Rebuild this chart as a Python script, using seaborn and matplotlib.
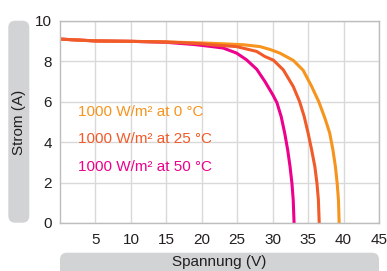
import matplotlib
matplotlib.use("Agg")
import matplotlib.pyplot as plt
from matplotlib.patches import FancyBboxPatch
from matplotlib.transforms import IdentityTransform
import seaborn as sns
import pandas as pd

# Data
v_0c = [0, 5, 10, 15, 20, 23, 25.9, 28.2, 29.6, 31.0, 32.9, 34.3, 35.5, 36.5, 37.4, 38.05, 38.5, 38.85, 39.1, 39.28, 39.38]
i_0c = [9.09, 9.0, 8.98, 8.95, 8.9, 8.86, 8.81, 8.72, 8.58, 8.4, 8.04, 7.55, 6.75, 6.0, 5.15, 4.44, 3.61, 2.79, 1.96, 1.14, 0.0]
v_25c = [0, 5, 10, 15, 20, 21.2, 24.9, 27.75, 28.9, 30.1, 31.5, 32.9, 33.8, 34.45, 35.0, 35.5, 35.95, 36.25, 36.45, 36.57]
i_25c = [9.09, 9.0, 8.98, 8.95, 8.86, 8.81, 8.72, 8.48, 8.23, 8.05, 7.57, 6.75, 6.0, 5.26, 4.44, 3.61, 2.79, 1.96, 1.14, 0.0]
v_50c = [0, 5, 10, 15, 19, 21.2, 23.0, 24.9, 26.3, 27.75, 28.9, 30.0, 30.6, 31.2, 31.7, 32.12, 32.45, 32.72, 32.9, 33.02]
i_50c = [9.09, 9.0, 8.98, 8.93, 8.82, 8.73, 8.65, 8.4, 8.07, 7.6, 7.0, 6.35, 5.95, 5.26, 4.44, 3.61, 2.79, 1.96, 1.14, 0.0]

series_labels = ["1000 W/m² at 0 °C", "1000 W/m² at 25 °C", "1000 W/m² at 50 °C"]
series_colors = ["#F7941D", "#F15A29", "#EC008C"]
x_ticks = [5, 10, 15, 20, 25, 30, 35, 40, 45]
y_ticks = [0, 2, 4, 6, 8, 10]
x_label = "Spannung (V)"
y_label = "Strom (A)"

frames = []
for lab, vv, ii in zip(series_labels, [v_0c, v_25c, v_50c], [i_0c, i_25c, i_50c]):
    frames.append(pd.DataFrame({"V": vv, "I": ii, "s": lab}))
df = pd.concat(frames, ignore_index=True)

sns.set_theme(style="whitegrid")
plt.rcParams["font.family"] = ["Liberation Sans", "DejaVu Sans"]

fig = plt.figure(figsize=(3.87, 2.71), dpi=100)
ax = fig.add_axes([60 / 387, 1 - 223 / 271, (379 - 60) / 387, (223 - 20.7) / 271])

palette = dict(zip(series_labels, series_colors))
draw_order = [series_labels[2], series_labels[0], series_labels[1]]
for lab in draw_order:
    sub = df[df["s"] == lab]
    sns.lineplot(data=sub, x="V", y="I", color=palette[lab], sort=False,
                 estimator=None, lw=2.2, ax=ax, legend=False,
                 solid_joinstyle="round", solid_capstyle="butt")

ax.set_xlim(0, 45)
ax.set_ylim(0, 10)
ax.set_xticks(x_ticks)
ax.set_yticks(y_ticks)
ax.set_xlabel("")
ax.set_ylabel("")
ax.tick_params(axis="both", length=0, labelsize=11, colors="#231F20")
ax.tick_params(axis="x", pad=7)
ax.tick_params(axis="y", pad=6)
ax.grid(True, color="#D9D9D9", lw=1)
for sp in ax.spines.values():
    sp.set_color("#BDBDBD")
    sp.set_linewidth(1)

text_y = [5.31, 3.95, 2.57]
for lab, col, ty in zip(series_labels, series_colors, text_y):
    ax.text(2.58, ty, lab, color=col, fontsize=11, va="baseline", ha="left")

box_col = "#D1D3D4"
ybox = FancyBboxPatch((8.3 + 4, 48.3 + 4), 21 - 8, 202 - 8,
                      boxstyle="round,pad=4,rounding_size=7",
                      transform=IdentityTransform(), fc=box_col, ec="none", zorder=0)
xbox = FancyBboxPatch((60 + 4, -20), 319 - 8, 38.3 - 4,
                      boxstyle="round,pad=4,rounding_size=7",
                      transform=IdentityTransform(), fc=box_col, ec="none", zorder=0)
fig.add_artist(ybox)
fig.add_artist(xbox)
fig.text(18.8 / 387, 1 - 122 / 271, y_label, rotation=90, ha="center", va="center",
         fontsize=11, color="#231F20")
fig.text(219.5 / 387, 1 - 262 / 271, x_label, ha="center", va="center",
         fontsize=11, color="#231F20")

fig.savefig("out.png", dpi=100)
